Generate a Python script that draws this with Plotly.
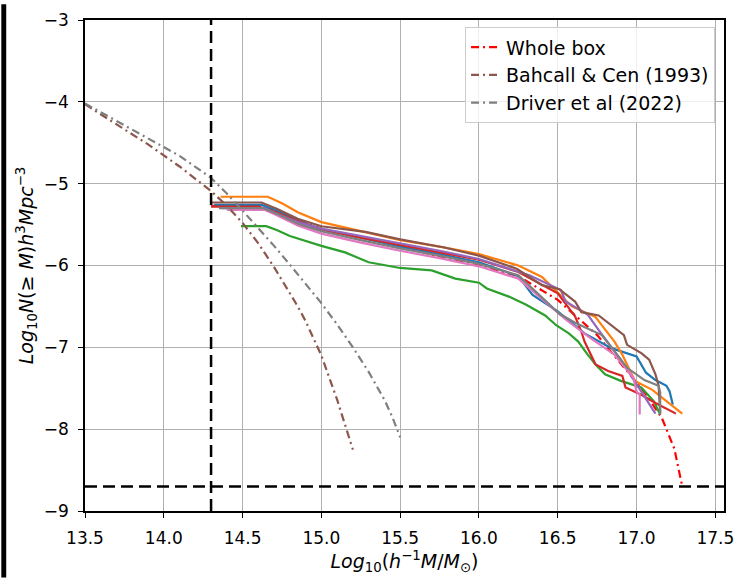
import plotly.graph_objects as go

# ---------------- data ----------------
# simulation sub-box cumulative mass functions (log10 M, log10 N)
blue_x = [14.32, 14.62, 14.72, 14.85, 15.0, 15.25, 15.5, 15.75, 16.0, 16.25, 16.34, 16.5, 16.67, 16.84, 17.0, 17.06, 17.12, 17.19, 17.21, 17.23]
blue_y = [-5.26, -5.26, -5.33, -5.45, -5.56, -5.66, -5.77, -5.86, -5.96, -6.13, -6.36, -6.56, -6.83, -7.01, -7.11, -7.31, -7.40, -7.47, -7.54, -7.70]
orange_x = [14.36, 14.66, 14.75, 14.85, 15.0, 15.25, 15.5, 15.75, 16.0, 16.25, 16.4, 16.59, 16.69, 16.74, 16.8, 16.86, 16.91, 16.94, 16.99, 17.1, 17.17, 17.29]
orange_y = [-5.16, -5.16, -5.24, -5.35, -5.47, -5.58, -5.69, -5.77, -5.86, -6.00, -6.14, -6.50, -6.59, -6.63, -6.78, -6.93, -7.09, -7.21, -7.41, -7.52, -7.63, -7.81]
green_x = [14.49, 14.65, 14.72, 14.8, 15.0, 15.15, 15.3, 15.5, 15.7, 15.85, 16.0, 16.05, 16.19, 16.3, 16.42, 16.49, 16.57, 16.63, 16.69, 16.74, 16.8, 16.9, 17.03, 17.11, 17.15]
green_y = [-5.52, -5.52, -5.57, -5.64, -5.76, -5.84, -5.96, -6.03, -6.06, -6.16, -6.21, -6.28, -6.38, -6.48, -6.61, -6.73, -6.83, -6.93, -7.09, -7.21, -7.33, -7.41, -7.49, -7.66, -7.82]
red_x = [14.3, 14.6, 14.7, 14.85, 15.0, 15.25, 15.5, 15.75, 16.0, 16.25, 16.5, 16.61, 16.65, 16.67, 16.74, 16.82, 16.91, 16.93, 17.03, 17.12, 17.25]
red_y = [-5.28, -5.28, -5.34, -5.46, -5.56, -5.66, -5.75, -5.84, -5.93, -6.08, -6.34, -6.62, -6.81, -6.93, -7.21, -7.29, -7.35, -7.49, -7.58, -7.68, -7.81]
purple_x = [14.37, 14.64, 14.72, 14.85, 15.0, 15.25, 15.5, 15.75, 16.0, 16.32, 16.52, 16.55, 16.69, 16.76, 16.9, 17.0, 17.12]
purple_y = [-5.30, -5.30, -5.37, -5.47, -5.55, -5.64, -5.73, -5.82, -5.92, -6.12, -6.30, -6.44, -6.60, -6.79, -7.15, -7.45, -7.81]
brown_x = [14.3, 14.62, 14.72, 14.85, 15.0, 15.28, 15.5, 15.78, 16.0, 16.24, 16.4, 16.51, 16.61, 16.65, 16.76, 16.84, 16.92, 16.94, 17.03, 17.08, 17.12, 17.14, 17.15]
brown_y = [-5.23, -5.23, -5.31, -5.43, -5.52, -5.59, -5.68, -5.78, -5.88, -6.04, -6.24, -6.29, -6.44, -6.57, -6.61, -6.73, -6.85, -6.97, -7.07, -7.15, -7.33, -7.47, -7.80]
pink_x = [14.4, 14.64, 14.72, 14.85, 15.0, 15.25, 15.5, 15.75, 16.0, 16.25, 16.55, 16.71, 16.86, 16.98, 17.0, 17.02, 17.02]
pink_y = [-5.32, -5.32, -5.39, -5.51, -5.61, -5.72, -5.82, -5.91, -6.01, -6.16, -6.66, -6.89, -7.09, -7.37, -7.54, -7.58, -7.82]
gray_x = [14.35, 14.63, 14.72, 14.85, 15.0, 15.25, 15.5, 15.75, 16.0, 16.25, 16.51, 16.61, 16.78, 16.94, 17.05, 17.14, 17.15, 17.15]
gray_y = [-5.30, -5.30, -5.37, -5.49, -5.58, -5.69, -5.79, -5.88, -5.98, -6.12, -6.59, -6.70, -6.85, -7.25, -7.40, -7.47, -7.55, -7.82]

# whole box
whole_x = [14.3, 14.6, 14.7, 14.85, 15.0, 15.25, 15.5, 15.8, 16.0, 16.25, 16.5, 16.75, 16.94, 17.05, 17.16, 17.24, 17.29]
whole_y = [-5.27, -5.27, -5.33, -5.45, -5.55, -5.66, -5.76, -5.92, -6.0, -6.13, -6.42, -6.85, -7.29, -7.55, -7.86, -8.24, -8.70]

# Bahcall & Cen (1993)
bc_x = [13.5, 13.7, 13.9, 14.1, 14.3, 14.4, 14.5, 14.6, 14.7, 14.85, 14.9, 15.0, 15.1, 15.2]
bc_y = [-4.03, -4.28, -4.52, -4.79, -5.09, -5.27, -5.48, -5.73, -6.02, -6.50, -6.68, -7.10, -7.64, -8.25]

# Driver et al (2022)
dr_x = [13.5, 13.7, 13.9, 14.1, 14.3, 14.4, 14.5, 14.6, 14.7, 14.8, 14.9, 15.0, 15.1, 15.2, 15.3, 15.4, 15.45, 15.5]
dr_y = [-4.02, -4.23, -4.44, -4.66, -4.93, -5.12, -5.33, -5.54, -5.76, -5.99, -6.22, -6.46, -6.72, -7.0, -7.30, -7.64, -7.85, -8.10]

mass_cut = 14.3
density_floor = -8.7

x_ticks = [13.5, 14.0, 14.5, 15.0, 15.5, 16.0, 16.5, 17.0, 17.5]
y_ticks = [-9, -8, -7, -6, -5, -4, -3]

# ---------------- figure ----------------
fig = go.Figure()

dashdot = "8px,4px,2px,4px"
fig.add_trace(go.Scatter(x=whole_x, y=whole_y, mode="lines", name="Whole box", legendgroup="a",
                         line=dict(color="#ff0000", width=2.2, dash=dashdot)))

subs = [
    (blue_x, blue_y, "#1f77b4"),
    (orange_x, orange_y, "#ff7f0e"),
    (green_x, green_y, "#2ca02c"),
    (red_x, red_y, "#d62728"),
    (purple_x, purple_y, "#9467bd"),
    (brown_x, brown_y, "#8c564b"),
    (pink_x, pink_y, "#e377c2"),
    (gray_x, gray_y, "#7f7f7f"),
]
for xs, ys, c in subs:
    fig.add_trace(go.Scatter(x=xs, y=ys, mode="lines", line=dict(color=c, width=2.2),
                             showlegend=False, hoverinfo="skip"))

fig.add_trace(go.Scatter(x=bc_x, y=bc_y, mode="lines", name="Bahcall & Cen (1993)", legendgroup="b",
                         line=dict(color="#8c564b", width=2.2, dash=dashdot)))
fig.add_trace(go.Scatter(x=dr_x, y=dr_y, mode="lines", name="Driver et al (2022)", legendgroup="c",
                         line=dict(color="#7f7f7f", width=2.2, dash=dashdot)))

fig.add_shape(type="line", xref="x", yref="paper", x0=mass_cut, x1=mass_cut, y0=0, y1=1,
              line=dict(color="black", width=2.5, dash="12px,6px"))
fig.add_shape(type="line", xref="paper", yref="y", x0=0, x1=1, y0=density_floor, y1=density_floor,
              line=dict(color="black", width=2.5, dash="12px,6px"))
# dark strip at the left edge of the image
fig.add_shape(type="rect", xref="paper", yref="paper", x0=-85/649, x1=-80/649,
              y0=-67/495, y1=1+16/495, line=dict(width=0), fillcolor="black")

font_family = "DejaVu Sans"
fig.update_layout(
    width=744, height=578,
    margin=dict(l=85, r=10, t=16, b=67),
    paper_bgcolor="white", plot_bgcolor="white",
    font=dict(family=font_family, size=17, color="black"),
    legend=dict(x=0.986, y=0.985, xanchor="right", yanchor="top", traceorder="grouped",
                bgcolor="rgba(255,255,255,0.8)", bordercolor="#cccccc", borderwidth=1,
                font=dict(size=19), tracegroupgap=0),
    xaxis=dict(range=[13.5, 17.555], tickvals=x_ticks, ticktext=[f"{v:.1f}" for v in x_ticks],
               showgrid=True, gridcolor="#b0b0b0", gridwidth=1.2,
               showline=True, linecolor="black", linewidth=1.5, mirror=True,
               ticks="outside", ticklen=5, tickcolor="black", zeroline=False,
               ticklabelstandoff=6,
               title=dict(text="<i>Log</i><sub>10</sub>(<i>h</i><sup>−1</sup><i>M</i>/<i>M</i><sub>⊙</sub>)",
                          font=dict(size=19), standoff=6)),
    yaxis=dict(range=[-9, -3], tickvals=y_ticks,
               showgrid=True, gridcolor="#b0b0b0", gridwidth=1.2,
               showline=True, linecolor="black", linewidth=1.5, mirror=True,
               ticks="outside", ticklen=5, tickcolor="black", zeroline=False,
               ticklabelstandoff=6,
               title=dict(text="<i>Log</i><sub>10</sub><i>N</i>(≥ <i>M</i>)<i>h</i><sup>3</sup><i>Mpc</i><sup>−3</sup>",
                          font=dict(size=19), standoff=5)),
)

fig.write_html("out.html", config={"displayModeBar": False},
               post_script="document.body.style.margin='0px';document.body.style.padding='0px';")
